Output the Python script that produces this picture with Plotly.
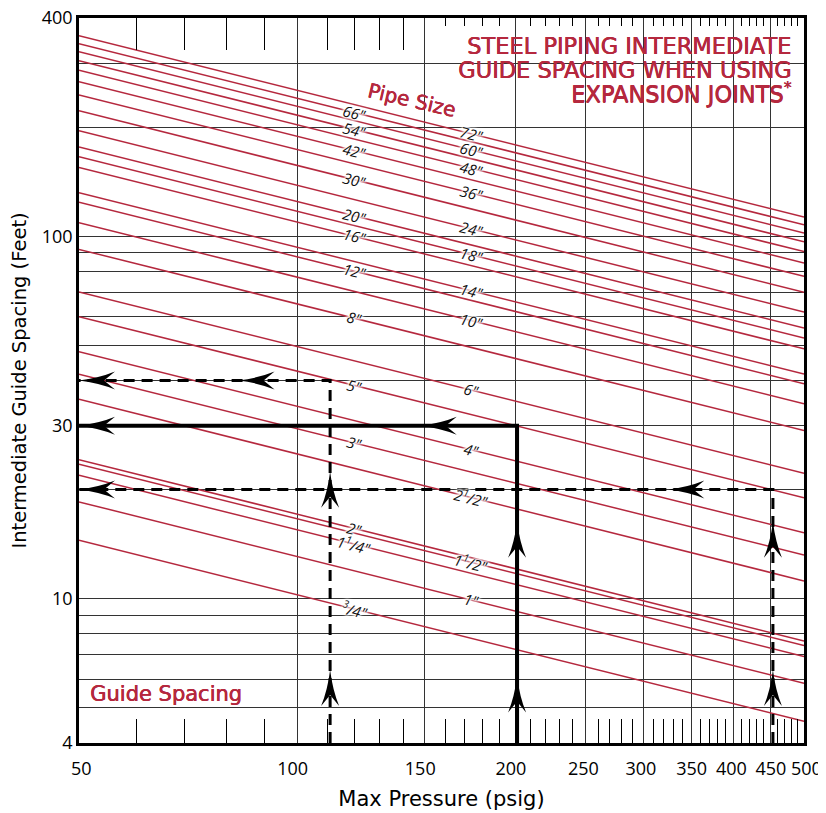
import numpy as np
import plotly.graph_objects as go

# ---------------- data ----------------
pipe_sizes = ['72"', '66"', '60"', '54"', '48"', '42"', '36"', '30"', '24"', '20"',
              '18"', '16"', '14"', '12"', '10"', '8"', '6"', '5"', '4"', '3"',
              '2<sup>1</sup>/2"', '2"', '1<sup>1</sup>/2"', '1<sup>1</sup>/4"', '1"', '<sup>3</sup>/4"']
# guide spacing (ft) read at 50 psig and at 500 psig
spacing_at_50 = [357.4, 339.8, 322.9, 305.1, 286.9, 266.9, 245.2, 221.8, 195.5, 176.3,
                 165.8, 154.7, 131.9, 124.1, 109.0, 92.0, 70.2, 60.0, 48.0, 41.6,
                 35.5, 24.2, 23.5, 21.9, 18.5, 14.5]
spacing_at_500 = [113.0, 107.5, 102.1, 96.5, 90.7, 84.4, 77.5, 70.1, 61.8, 55.8,
                  52.4, 48.9, 41.7, 39.2, 34.5, 29.1, 22.2, 19.0, 15.2, 13.2,
                  11.2, 7.65, 7.43, 6.93, 5.85, 4.59]
pressure_ends = [50, 500]
label_pressure = [174, 120] * 13   # column in which each size label sits

x_tick_vals = [50, 100, 150, 200, 250, 300, 350, 400, 450, 500]
x_tick_text = ['&nbsp;50', '100&nbsp;&nbsp;', '150&nbsp;&nbsp;', '200&nbsp;&nbsp;', '250&nbsp;',
               '300&nbsp;', '350', '400&nbsp;', '450', '&nbsp;500']
x_minor_vals = [v for v in range(60, 500, 10) if v % 50 != 0]
x_top_long = [60, 70, 80, 90, 110, 120, 130, 140]
x_top_short = [v for v in range(160, 500, 10) if v % 50 != 0]
y_tick_vals = [4, 10, 30, 100, 400]
y_minor_vals = [5, 6, 7, 8, 9, 20, 40, 50, 60, 70, 80, 90, 200, 300]

# worked examples: pressure -> spacing
ex_pressure = [201, 111, 453]
ex_spacing = [30, 40, 20]
ex_solid = [True, False, False]
ex_left_arrow_p = [148, 83, 325]        # second left-pointing arrow on each horizontal
ex_up_arrow_l = [[6.1, 16.3], [6.36, 22.4], [6.36, 16.3]]

RED = '#B5283E'
GRID = '#333333'

fig = go.Figure()

# pipe size lines
for s50, s500 in zip(spacing_at_50, spacing_at_500):
    fig.add_trace(go.Scatter(x=pressure_ends, y=[s50, s500], mode='lines',
                             line=dict(color=RED, width=1.5),
                             hoverinfo='skip', showlegend=False))

# example lines
for p, l, solid in zip(ex_pressure, ex_spacing, ex_solid):
    fig.add_trace(go.Scatter(x=[p, p, pressure_ends[0]], y=[y_tick_vals[0], l, l],
                             mode='lines',
                             line=dict(color='black', width=4 if solid else 3,
                                       dash='solid' if solid else '11px,7px'),
                             hoverinfo='skip', showlegend=False))

# dummy traces to register top tick axes
fig.add_trace(go.Scatter(x=[None], y=[None], xaxis='x2', showlegend=False, hoverinfo='skip'))
fig.add_trace(go.Scatter(x=[None], y=[None], xaxis='x3', showlegend=False, hoverinfo='skip'))

# arrowheads
UP = 'M0,0 Q2.5,-20 9,-36 L0,-25 L-9,-36 Q-2.5,-20 0,0 Z'
LEFT = 'M0,0 Q20,2.5 36,9 L25,0 L36,-9 Q20,-2.5 0,0 Z'
shapes = []
for p, l, lp, ups in zip(ex_pressure, ex_spacing, ex_left_arrow_p, ex_up_arrow_l):
    for xp in [pressure_ends[0], lp]:
        shapes.append(dict(type='path', xref='x', yref='y', xsizemode='pixel', ysizemode='pixel',
                           xanchor=xp, yanchor=l, path=LEFT, fillcolor='black',
                           line=dict(width=0), layer='above'))
    for ul in ups:
        shapes.append(dict(type='path', xref='x', yref='y', xsizemode='pixel', ysizemode='pixel',
                           xanchor=p, yanchor=ul, path=UP, fillcolor='black',
                           line=dict(width=0), layer='above'))

# white box behind title
shapes.append(dict(type='rect', xref='paper', yref='paper', x0=0.502, x1=0.99, y0=0.873, y1=0.9876,
                   fillcolor='white', line=dict(width=0), layer='between'))

SHADOW = ('white 0px 0px 2px, white 0px 0px 2px, white 0px 0px 3px, white 0px 0px 3px, '
          'white 0px 0px 4px, white 0px 0px 4px, white 0px 0px 5px')
EMBOLDEN = '0.5px 0px 0px %s, 0.25px 0.25px 0px %s' % (RED, RED)

annotations = []
# size labels on the lines
lp0, lp1 = np.log10(pressure_ends)
for name, s50, s500, lp in zip(pipe_sizes, spacing_at_50, spacing_at_500, label_pressure):
    t = (np.log10(lp) - lp0) / (lp1 - lp0)
    ly = np.log10(s50) + t * (np.log10(s500) - np.log10(s50))
    annotations.append(dict(x=np.log10(lp), y=ly, xref='x', yref='y', text='<i>' + name + '</i>',
                            showarrow=False, textangle=14,
                            font=dict(family='Open Sans', size=15, color='#111', shadow=SHADOW)))

title_lines = ['STEEL PIPING INTERMEDIATE', 'GUIDE SPACING WHEN USING',
               'EXPANSION JOINTS<sup>*</sup>']
for txt, yy in zip(title_lines, [0.9614, 0.9283, 0.8966]):
    annotations.append(dict(x=0.9848, y=yy, xref='paper', yref='paper', xanchor='right',
                            yanchor='middle', text=txt, showarrow=False,
                            font=dict(family='DejaVu Sans', size=22.5, color=RED, shadow=EMBOLDEN)))

annotations.append(dict(x=0.459, y=0.887, xref='paper', yref='paper', xanchor='center',
                        yanchor='middle', text='Pipe Size', showarrow=False, textangle=13,
                        font=dict(family='DejaVu Sans', size=20, color=RED, shadow=EMBOLDEN)))
annotations.append(dict(x=0.0124, y=0.0676, xref='paper', yref='paper', xanchor='left',
                        yanchor='middle', text='Guide Spacing', showarrow=False,
                        font=dict(family='DejaVu Sans', size=21, color=RED, shadow=EMBOLDEN)))

eps = 1e-6
xr = [np.log10(50) - eps, np.log10(500) + eps]
yr = [np.log10(4) - eps, np.log10(400) + eps]
fig.update_layout(
    width=818, height=805,
    margin=dict(l=71, r=22, t=10, b=70, autoexpand=False),
    plot_bgcolor='white', paper_bgcolor='white',
    showlegend=False,
    font=dict(family='Open Sans', color='black'),
    xaxis=dict(type='log', range=xr, tickmode='array', tickvals=x_tick_vals,
               ticktext=x_tick_text, automargin=False, ticklabelstandoff=8, tickangle=0,
               ticklabeloverflow='allow',
               showgrid=True, gridcolor=GRID, gridwidth=1,
               showline=True, linecolor='black', linewidth=2.5, mirror=True,
               ticks='', zeroline=False, tickfont=dict(size=18, color='black'),
               title=dict(text='Max Pressure (psig)', font=dict(family='DejaVu Sans', size=21, color='black'), standoff=12),
               minor=dict(tickmode='array', tickvals=x_minor_vals, ticks='inside', ticklen=24,
                          tickcolor='black', tickwidth=1, showgrid=False)),
    xaxis2=dict(type='log', range=xr, overlaying='x', side='top', anchor='y', automargin=False,
                tickmode='array', tickvals=x_top_long, ticks='inside', ticklen=32,
                tickcolor='black', tickwidth=1, showticklabels=False, showgrid=False,
                showline=False, zeroline=False),
    xaxis3=dict(type='log', range=xr, overlaying='x', side='top', anchor='y', automargin=False,
                tickmode='array', tickvals=x_top_short, ticks='inside', ticklen=8,
                tickcolor='black', tickwidth=1, showticklabels=False, showgrid=False,
                showline=False, zeroline=False),
    yaxis=dict(type='log', range=yr, tickmode='array',
               tickvals=y_tick_vals, ticktext=[str(v) for v in y_tick_vals], automargin=False,
               ticklabeloverflow='allow',
               showgrid=True, gridcolor=GRID, gridwidth=1,
               showline=True, linecolor='black', linewidth=2.5, mirror=True,
               ticks='', zeroline=False, tickfont=dict(size=18, color='black'),
               title=dict(text='Intermediate Guide Spacing (Feet)', font=dict(family='DejaVu Sans', size=19.5, color='black'), standoff=10),
               minor=dict(tickmode='array', tickvals=y_minor_vals, ticks='',
                          showgrid=True, gridcolor=GRID, gridwidth=1)),
    shapes=shapes,
    annotations=annotations,
)

fig.write_html('out.html')
